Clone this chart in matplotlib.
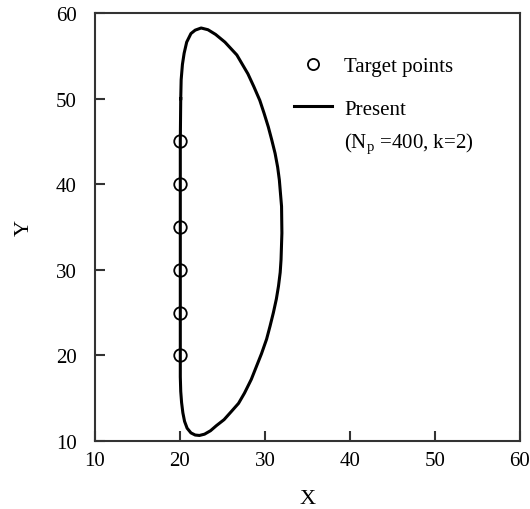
import matplotlib
matplotlib.use("Agg")
import matplotlib.pyplot as plt
from matplotlib.lines import Line2D

plt.rcParams['font.family'] = ['Liberation Serif', 'DejaVu Serif']
plt.rcParams['mathtext.fontset'] = 'custom'
plt.rcParams['mathtext.rm'] = 'Liberation Serif'

# Target points
target_x = [20, 20, 20, 20, 20, 20]
target_y = [20, 25, 30, 35, 40, 45]

# Present shape (N_p = 400, k = 2), closed contour
shape_x = [20.1, 20.05, 20.05, 20.05, 20.05, 20.05, 20.05, 20.05, 20.1, 20.2, 20.35, 20.55,
           20.85, 21.3, 21.8, 22.3, 22.9, 23.6, 24.3, 25.2, 26.1, 26.9, 27.6, 28.4, 29.0,
           29.6, 30.2, 30.6, 31.0, 31.35, 31.6, 31.8, 31.9, 32.0, 31.96, 31.7, 31.5, 31.2,
           30.8, 30.4, 29.9, 29.4, 28.7, 28.0, 26.7, 25.3, 24.2, 23.3, 22.5, 21.8, 21.3,
           20.8, 20.5, 20.3, 20.15, 20.1]
shape_y = [50.0, 45.0, 40.0, 35.0, 30.0, 25.0, 20.0, 17.5, 15.8, 14.5, 13.3, 12.3,
           11.5, 10.95, 10.7, 10.65, 10.8, 11.2, 11.8, 12.5, 13.5, 14.4, 15.6, 17.2, 18.7,
           20.2, 21.9, 23.4, 25.0, 26.6, 28.1, 29.7, 31.2, 34.3, 37.4, 40.5, 42.0, 43.6,
           45.2, 46.7, 48.3, 49.8, 51.4, 52.9, 55.1, 56.6, 57.5, 58.05, 58.25, 58.0, 57.6,
           56.6, 55.3, 54.0, 52.2, 50.0]

x_ticks = [10, 20, 30, 40, 50, 60]
y_ticks = [10, 20, 30, 40, 50, 60]

fig = plt.figure(figsize=(5.3, 5.1), dpi=100)
ax = fig.add_axes([0.179, 0.1333, 0.802, 0.8392])

ax.plot(shape_x, shape_y, color='black', lw=2.2, solid_joinstyle='round')
ax.plot(target_x, target_y, linestyle='none', marker='o', markersize=9,
        markerfacecolor='none', markeredgecolor='black', markeredgewidth=1.3)

ax.set_xlim(10, 60)
ax.set_ylim(10, 60)
ax.set_xticks(x_ticks)
ax.set_yticks(y_ticks)
ax.tick_params(direction='in', length=7, width=1.5, color='#333333',
               labelsize=15, top=False, right=False)
ax.tick_params(axis='x', pad=7)
ax.tick_params(axis='y', pad=13)
for s in ax.spines.values():
    s.set_linewidth(1.5)
    s.set_color('#333333')

ax.set_xlabel('X', fontsize=16, labelpad=14)
ax.set_ylabel('Y', fontsize=16, labelpad=16)

handles = [Line2D([], [], linestyle='none', marker='o', markersize=8,
                  markerfacecolor='none', markeredgecolor='black', markeredgewidth=1.3),
           Line2D([], [], color='black', lw=2.2)]
leg = ax.legend(handles, ['Target points', 'Present'], loc='upper left',
                bbox_to_anchor=(0.425, 0.942), frameon=False, fontsize=15,
                handlelength=1.8, handletextpad=0.6, labelspacing=1.1)
ax.text(0.586, 0.695, '(N$_\\mathrm{p}$ =400, k=2)', transform=ax.transAxes,
        fontsize=15, ha='left', va='center')

fig.savefig('out.png', dpi=100)
